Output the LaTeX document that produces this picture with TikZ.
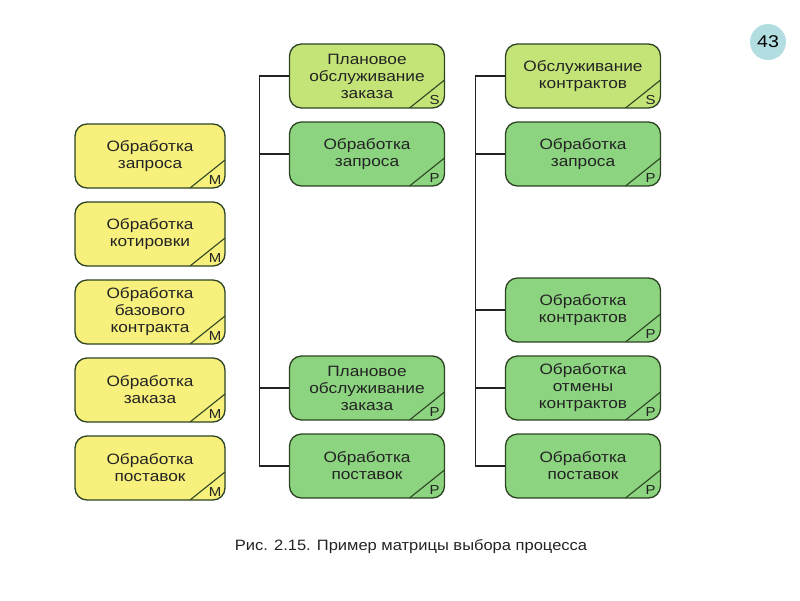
\documentclass[tikz,border=0pt]{standalone}
\usepackage{fontspec}
\setmainfont{Liberation Sans}[FakeStretch=1.15]
\usetikzlibrary{positioning}

\definecolor{lemon}{RGB}{247,240,125}
\definecolor{sgreen}{RGB}{196,228,120}
\definecolor{pgreen}{RGB}{140,212,128}
\definecolor{edge}{RGB}{45,68,35}
\definecolor{ink}{RGB}{35,35,35}
\definecolor{badge}{RGB}{178,222,226}

\tikzset{
  box/.style={draw=edge, line width=1.3pt, rounded corners=12pt,
    minimum width=155pt, minimum height=64pt, align=center, inner sep=2pt,
    text=ink, font=\fontsize{15}{17}\selectfont},
  tag/.style={path picture={
    \draw[edge, line width=1.1pt]
      ([xshift=-35pt]path picture bounding box.south east) --
      ([yshift=28pt]path picture bounding box.south east);
    \node[text=ink, font=\fontsize{13}{13}\selectfont]
      at ([xshift=-10pt,yshift=8pt]path picture bounding box.south east) {#1};}},
  mbox/.style={box, fill=lemon, minimum width=150pt, tag=M},
  sbox/.style={box, fill=sgreen, tag=S},
  pbox/.style={box, fill=pgreen, tag=P},
  link/.style={draw=ink, line width=1.1pt}
}

\begin{document}
\begin{tikzpicture}[x=1pt,y=-1pt,node distance=78pt,on grid]
  \useasboundingbox (0,0) rectangle (800,600);

  % left column
  \node[mbox] (l1) at (150,156) {Обработка\\запроса};
  \node[mbox] (l2) [below=of l1] {Обработка\\котировки};
  \node[mbox] (l3) [below=of l2] {Обработка\\базового\\контракта};
  \node[mbox] (l4) [below=of l3] {Обработка\\заказа};
  \node[mbox] (l5) [below=of l4] {Обработка\\поставок};

  % middle column
  \node[sbox] (m1) at (367,76) {Плановое\\обслуживание\\заказа};
  \node[pbox] (m2) [below=of m1] {Обработка\\запроса};
  \node[pbox] (m3) [below=234pt of m2] {Плановое\\обслуживание\\заказа};
  \node[pbox] (m4) [below=of m3] {Обработка\\поставок};

  % right column
  \node[sbox] (r1) at (583,76) {Обслуживание\\контрактов};
  \node[pbox] (r2) [below=of r1] {Обработка\\запроса};
  \node[pbox] (r3) [below=156pt of r2] {Обработка\\контрактов};
  \node[pbox] (r4) [below=of r3] {Обработка\\отмены\\контрактов};
  \node[pbox] (r5) [below=of r4] {Обработка\\поставок};

  % trunks
  \draw[link] (m1.west) -- ++(-29,0) |- (m4.west);
  \draw[link] (m2.west) -- ++(-29,0);
  \draw[link] (m3.west) -- ++(-29,0);
  \draw[link] (r1.west) -- ++(-29,0) |- (r5.west);
  \foreach \n in {r2,r3,r4}
    \draw[link] (\n.west) -- ++(-29,0);

  \node[circle, fill=badge, minimum size=36pt, inner sep=0pt, text=black,
    font=\fontsize{17}{17}\selectfont] (page) at (768,42) {43};
  \node[text=ink, font=\fontsize{15}{17}\selectfont\addfontfeature{FakeStretch=1.1}]
    (caption) at (411,547) {Рис. 2.15. Пример матрицы выбора процесса};
\end{tikzpicture}
\end{document}
